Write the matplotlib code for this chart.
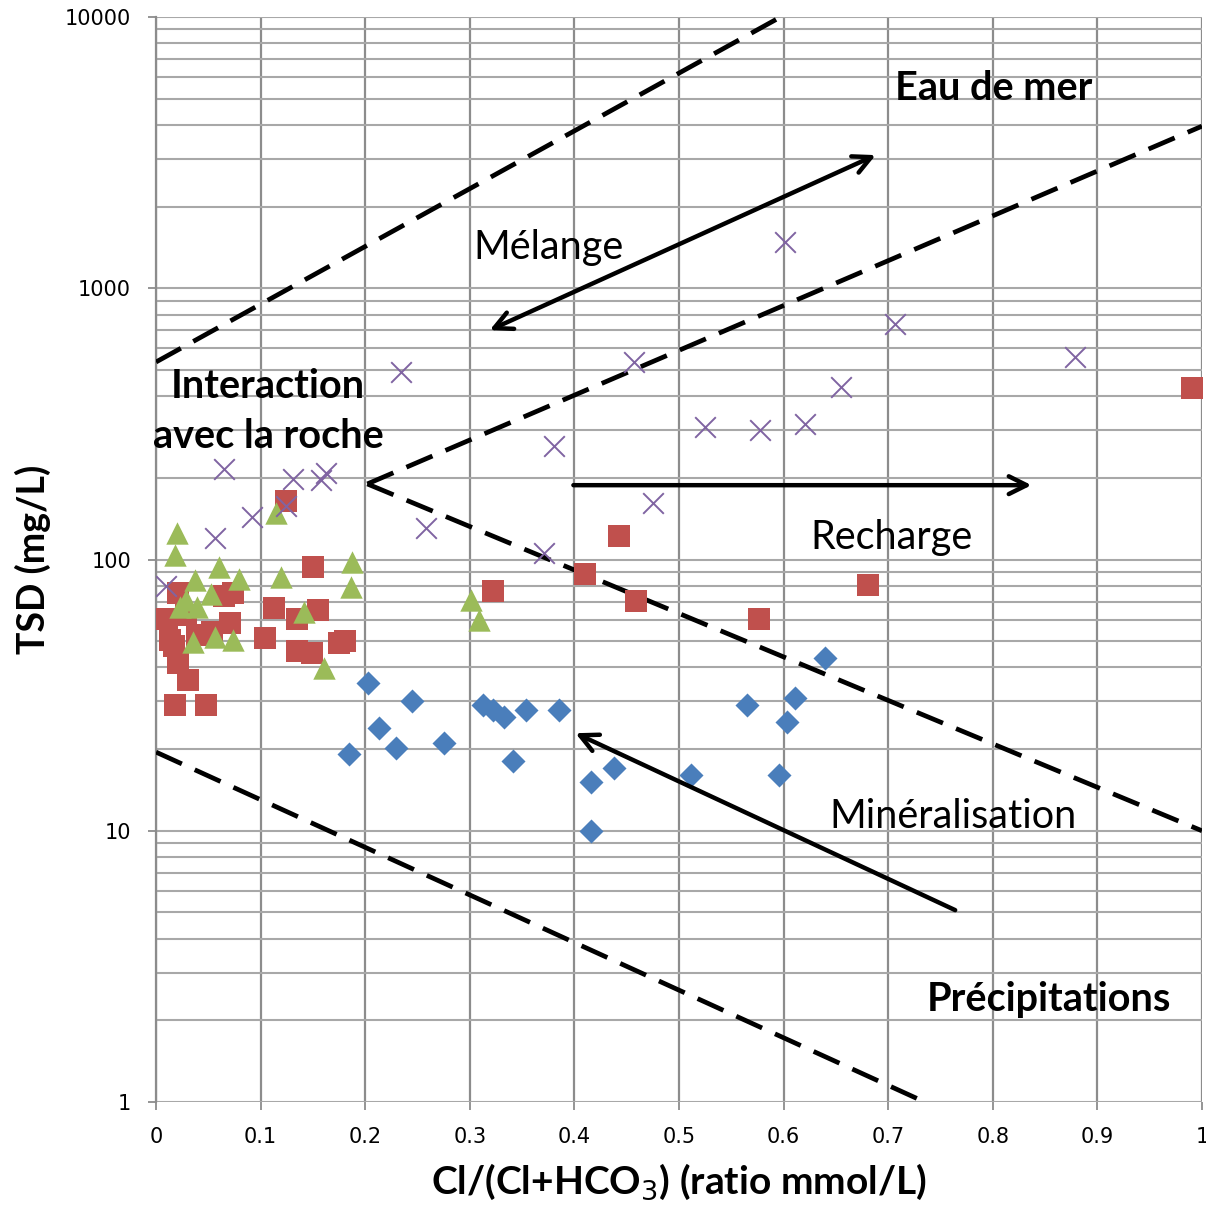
import matplotlib.pyplot as plt
from matplotlib.ticker import FixedLocator, NullFormatter, NullLocator

# Groups of samples: Cl/(Cl+HCO3) ratio and TSD (mg/L)
blue_x = [0.203, 0.213, 0.229, 0.245, 0.184, 0.275, 0.313, 0.322, 0.333, 0.354,
          0.385, 0.341, 0.416, 0.438, 0.416, 0.511, 0.565, 0.603, 0.611, 0.596, 0.640]
blue_y = [35, 24, 20.2, 30, 19.2, 21, 29, 28, 26.2, 28,
          28, 18.1, 15.1, 17, 10, 16, 29, 25.2, 31, 16, 43.3]

red_x = [0.021, 0.0105, 0.0287, 0.0134, 0.017, 0.021, 0.0306, 0.0182, 0.0478, 0.0707,
         0.065, 0.0736, 0.0392, 0.0535, 0.1243, 0.150, 0.1128, 0.1549, 0.1348, 0.1042,
         0.1348, 0.149, 0.175, 0.1807, 0.322, 0.443, 0.410, 0.459, 0.576, 0.681, 0.990]
red_y = [75.2, 60.3, 62.4, 50.5, 48, 41.6, 36.0, 29.1, 29.1, 58.3,
         73.3, 75.2, 52.7, 54.0, 164.5, 93.8, 66.3, 65.2, 60.3, 51.4,
         46.0, 45.3, 49.2, 50, 76.5, 122, 88.5, 70.4, 60.4, 80.5, 429]

green_x = [0.020, 0.018, 0.0602, 0.0373, 0.0793, 0.0526, 0.0287, 0.0229, 0.0392, 0.0354,
           0.0564, 0.0736, 0.1147, 0.1195, 0.1874, 0.1864, 0.1415, 0.1606, 0.301, 0.309]
green_y = [125, 104, 93.8, 84.0, 84.7, 74.6, 70.8, 66.8, 66.8, 49.6,
           51.8, 50.5, 148, 86.2, 97.9, 79.2, 64.0, 39.8, 71, 60]

purple_x = [0.0096, 0.065, 0.056, 0.092, 0.131, 0.1243, 0.158, 0.162, 0.234, 0.258,
            0.371, 0.380, 0.457, 0.475, 0.525, 0.577, 0.620, 0.655, 0.601, 0.706, 0.879]
purple_y = [79.9, 216, 120, 144, 198, 157, 197, 208, 491, 131,
            106, 262, 535, 162, 308, 300, 316, 432, 1482, 738, 558]

# Boundary lines between domains (end points)
bounds = [
    ([0.0, 0.597], [535, 10000]),
    ([0.202, 1.0], [190, 3960]),
    ([0.202, 1.0], [190, 10]),
    ([0.0, 0.735], [19.5, 1]),
]

x_ticks = [0, 0.1, 0.2, 0.3, 0.4, 0.5, 0.6, 0.7, 0.8, 0.9, 1]
x_labels = ["0", "0.1", "0.2", "0.3", "0.4", "0.5", "0.6", "0.7", "0.8", "0.9", "1"]
y_ticks = [1, 10, 100, 1000, 10000]
y_labels = ["1", "10", "100", "1000", "10000"]

fig = plt.figure(figsize=(12.06, 12.08), dpi=100)
ax = fig.add_axes([0.1294, 0.0877, 0.8673, 0.8982])

ax.set_yscale("log")
ax.set_xlim(0, 1)
ax.set_ylim(1, 10000)

# Grid
ax.xaxis.set_major_locator(FixedLocator(x_ticks))
ax.xaxis.set_minor_locator(NullLocator())
ax.yaxis.set_major_locator(FixedLocator(y_ticks))
minor = [m * 10 ** e for e in range(0, 4) for m in range(2, 10)]
ax.yaxis.set_minor_locator(FixedLocator(minor))
ax.yaxis.set_minor_formatter(NullFormatter())
ax.grid(True, which="major", axis="x", color="#8c8c8c", lw=1.6)
ax.grid(True, which="both", axis="y", color="#a8a8a8", lw=1.5)
ax.set_axisbelow(True)

for s in ["top", "right", "bottom"]:
    ax.spines[s].set_visible(False)
ax.spines["left"].set_color("#8c8c8c")
ax.spines["left"].set_linewidth(1.6)

ax.set_xticks(x_ticks)
ax.set_xticklabels(x_labels)
ax.set_yticks(y_ticks)
ax.set_yticklabels(y_labels)
ax.tick_params(axis="both", which="major", length=6, width=1.3, color="#8c8c8c",
               labelsize=15, pad=12)
ax.tick_params(axis="y", which="minor", length=0)
ax.tick_params(axis="y", which="major", pad=12)

# Dashed boundaries
for bx, by in bounds:
    ax.plot(bx, by, color="black", lw=3.4, linestyle=(0, (6, 3)), zorder=3)

# Samples
ax.scatter(blue_x, blue_y, marker="D", s=150, color="#4a7ebb", zorder=4, linewidths=0)
ax.scatter(red_x, red_y, marker="s", s=230, color="#c0504d", zorder=4, linewidths=0)
ax.scatter(green_x, green_y, marker="^", s=260, color="#9bbb59", zorder=5, linewidths=0)
ax.scatter(purple_x, purple_y, marker="x", s=220, color="#8064a2", zorder=6, linewidths=1.4)

# Process arrows
arrow = dict(lw=3.2, color="black", mutation_scale=32, shrinkA=0, shrinkB=0)
ax.annotate("", xy=(0.688, 3098), xytext=(0.319, 701),
            arrowprops=dict(arrowstyle="<->", **arrow), zorder=7)
ax.annotate("", xy=(0.837, 188), xytext=(0.399, 188),
            arrowprops=dict(arrowstyle="->", **arrow), zorder=7)
ax.annotate("", xy=(0.401, 22.9), xytext=(0.764, 5.1),
            arrowprops=dict(arrowstyle="->", **arrow), zorder=7)

# Domain labels
fam = "Lato"
fs = 28.5
ax.text(0.7065, 5470, "Eau de mer", fontsize=fs, fontweight="bold", family=fam,
        ha="left", va="center")
ax.text(0.375, 1408, "Mélange", fontsize=fs, family=fam, ha="center", va="center")
ax.text(0.107, 436, "Interaction", fontsize=fs, fontweight="bold", family=fam,
        ha="center", va="center")
ax.text(0.107, 283, "avec la roche", fontsize=fs, fontweight="bold", family=fam,
        ha="center", va="center")
ax.text(0.7027, 121, "Recharge", fontsize=fs, family=fam, ha="center", va="center")
ax.text(0.762, 11.3, "Minéralisation", fontsize=fs, family=fam, ha="center", va="center")
ax.text(0.854, 2.38, "Précipitations", fontsize=fs, fontweight="bold", family=fam,
        ha="center", va="center")

ax.set_xlabel("Cl/(Cl+HCO$_3$) (ratio mmol/L)", fontsize=28, fontweight="bold",
              family=fam, labelpad=10)
ax.set_ylabel("TSD (mg/L)", fontsize=27, fontweight="bold", family=fam, labelpad=10)

fig.savefig("out.png", dpi=100)
